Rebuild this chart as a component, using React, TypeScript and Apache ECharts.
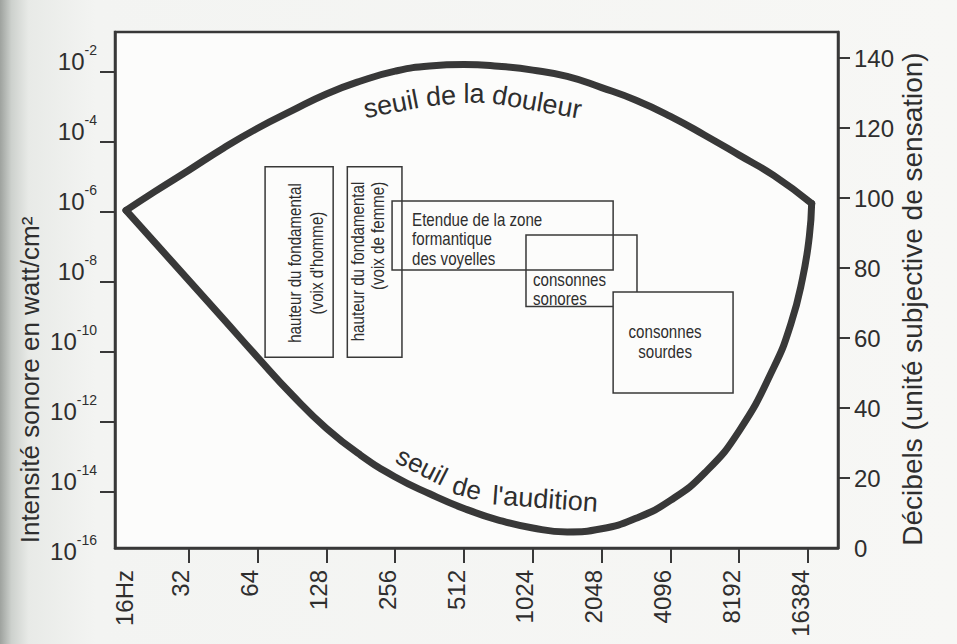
import React, { useEffect, useRef } from 'react';
import * as echarts from 'echarts';

// ---- data ----
const FREQ_TICKS = [16, 32, 64, 128, 256, 512, 1024, 2048, 4096, 8192, 16384];
const FREQ_LABELS = ['16Hz', '32', '64', '128', '256', '512', '1024', '2048', '4096', '8192', '16384'];
const DB_TICKS = [0, 20, 40, 60, 80, 100, 120, 140];
const INTENSITY_EXPONENTS = [-16, -14, -12, -10, -8, -6, -4, -2];
const INTENSITY_TICK_DB = [16, 36, 56, 76, 96, 116, 136];

// seuil de la douleur (Hz, dB)
const PAIN_FREQ = [17, 22.6, 32, 45.3, 64, 90.5, 128, 181, 256, 362, 512, 724, 1024, 1448, 2048, 2896, 4096, 5793, 8192, 11585, 17000];
const PAIN_DB = [96.5, 101.8, 108, 114.3, 120, 125, 129.8, 133.5, 136.3, 137.8, 138.2, 137.7, 136.6, 134.8, 131.6, 128, 123.4, 118, 112.3, 106.5, 98.5];

// seuil de l'audition (Hz, dB)
const HEARING_FREQ = [17, 22.6, 32, 45.3, 64, 90.5, 128, 181, 256, 362, 512, 724, 1024, 1448, 2048, 2896, 4096, 5793, 8192, 11585, 13777, 15500, 16600, 17000];
const HEARING_DB = [96.5, 87.5, 76.5, 65.5, 54.5, 43.8, 34.2, 26.5, 20.3, 15.5, 11.3, 8, 5.7, 4.6, 5.5, 8.5, 13.6, 21.5, 33.5, 51.5, 64, 77, 89, 98.5];

// zones
const BOX_LABELS = [
  "hauteur du fondamental\n(voix d'homme)",
  'hauteur du fondamental\n(voix de femme)',
  'Etendue de la zone\nformantique\ndes voyelles',
  'consonnes\nsonores',
  'consonnes\nsourdes',
];
const BOX_F_MIN = [69, 158, 248, 956, 2300];
const BOX_F_MAX = [137, 274, 2300, 2925, 7700];
const BOX_DB_MIN = [54.5, 54.5, 79.5, 69, 44.3];
const BOX_DB_MAX = [109, 109, 99.2, 89.5, 73.2];

const INK = '#2e2e2e';
const LINE = '#383838';
const FONT = "'Liberation Sans', Arial, Helvetica, sans-serif";

export default function App() {
  const ref = useRef<HTMLDivElement>(null);

  useEffect(() => {
    if (!ref.current) return;
    const chart = echarts.init(ref.current, undefined, { renderer: 'svg' });

    const painData = PAIN_FREQ.map((f, i) => [Math.log2(f), PAIN_DB[i]]);
    const hearingData = HEARING_FREQ.map((f, i) => [Math.log2(f), HEARING_DB[i]]);
    const boxData = BOX_LABELS.map((_, i) => [
      Math.log2(BOX_F_MIN[i]),
      Math.log2(BOX_F_MAX[i]),
      BOX_DB_MIN[i],
      BOX_DB_MAX[i],
    ]);

    const renderBox = (params: any, api: any) => {
      const i = params.dataIndex;
      const tl = api.coord([api.value(0), api.value(3)]);
      const br = api.coord([api.value(1), api.value(2)]);
      const x = tl[0];
      const y = tl[1];
      const w = br[0] - tl[0];
      const h = br[1] - tl[1];
      const children: any[] = [
        {
          type: 'rect',
          shape: { x, y, width: w, height: h },
          style: {
            fill: i === 4 ? '#fcfcfb' : 'rgba(0,0,0,0)',
            stroke: LINE,
            lineWidth: 1.5,
          },
        },
      ];
      const base = { fill: INK, fontFamily: FONT, fontSize: 18, text: BOX_LABELS[i] };
      const sx = 0.84;
      if (i === 0) {
        children.push({
          type: 'text',
          x: x + w / 2 + 7,
          y: y + h / 2 + 1,
          rotation: Math.PI / 2,
          scaleX: sx,
          style: { ...base, lineHeight: 22, align: 'center', verticalAlign: 'middle' },
        });
      } else if (i === 1) {
        children.push({
          type: 'text',
          x: x + 21,
          y: y + 15,
          rotation: Math.PI / 2,
          scaleX: sx,
          style: { ...base, lineHeight: 20, align: 'right', verticalAlign: 'middle' },
        });
      } else if (i === 2) {
        children.push({
          type: 'text',
          x: x + 20,
          y: y + 9,
          scaleX: sx,
          style: { ...base, lineHeight: 19.5, align: 'left', verticalAlign: 'top' },
        });
      } else if (i === 3) {
        children.push({
          type: 'text',
          x: x + 7,
          y: y + h + 2,
          scaleX: sx,
          style: { ...base, lineHeight: 19, align: 'left', verticalAlign: 'bottom' },
        });
      } else {
        children.push({
          type: 'text',
          x: x + w / 2 - 8,
          y: y + h / 2,
          scaleX: sx,
          style: { ...base, lineHeight: 20, align: 'center', verticalAlign: 'middle' },
        });
      }
      return { type: 'group', children };
    };

    const words = [
      { t: 'seuil', x: 391, y: 104, r: 11, s: 27 },
      { t: 'de', x: 441, y: 96, r: 5, s: 27 },
      { t: 'la', x: 474, y: 94, r: 0, s: 27 },
      { t: 'douleur', x: 537, y: 102, r: -10, s: 27 },
      { t: 'seuil', x: 422, y: 466, r: -27, s: 26 },
      { t: 'de', x: 467, y: 488, r: -15, s: 26 },
      { t: "l'audition", x: 545, y: 499, r: -4, s: 27 },
    ];

    const option: any = {
      animation: false,
      backgroundColor: {
        type: 'linear',
        x: 0,
        y: 0,
        x2: 1,
        y2: 0,
        colorStops: [
          { offset: 0, color: '#9ea29e' },
          { offset: 0.012, color: '#cdd1cd' },
          { offset: 0.03, color: '#e8eae7' },
          { offset: 0.1, color: '#f3f4f2' },
          { offset: 1, color: '#f7f7f5' },
        ],
      },
      textStyle: { fontFamily: FONT, color: INK },
      grid: {
        left: 115,
        right: 119,
        top: 32,
        bottom: 96,
        show: true,
        backgroundColor: '#fcfcfb',
        borderColor: LINE,
        borderWidth: 2.5,
      },
      xAxis: {
        type: 'value',
        min: 3.927,
        max: 14.436,
        axisLine: { show: true, lineStyle: { color: LINE, width: 2.5 } },
        axisTick: {
          show: true,
          customValues: FREQ_TICKS.slice(1).map((f) => Math.log2(f)),
          length: 15,
          lineStyle: { color: LINE, width: 2 },
        },
        axisLabel: {
          customValues: FREQ_TICKS.map((f) => Math.log2(f)),
          formatter: (v: number) => {
            const i = Math.round(v) - 4;
            return i === 0 ? `{h|${FREQ_LABELS[i]}}` : `{n|${FREQ_LABELS[i]}}`;
          },
          rotate: 90,
          color: INK,
          margin: 22,
          rich: {
            n: { fontSize: 24, color: INK, fontFamily: FONT, padding: [0, 0, 16, 0] },
            h: { fontSize: 24, color: INK, fontFamily: FONT, padding: [8, 0, 0, 0] },
          },
        },
        splitLine: { show: false },
      },
      yAxis: [
        {
          type: 'value',
          min: 0,
          max: 147.5,
          position: 'left',
          axisLine: { show: true, lineStyle: { color: LINE, width: 2.5 } },
          axisTick: { show: false },
          axisLabel: {
            customValues: DB_TICKS,
            margin: 18,
            formatter: (v: number) => `{b|10}{s|${INTENSITY_EXPONENTS[DB_TICKS.indexOf(v)]}}`,
            rich: {
              b: { fontSize: 24, lineHeight: 30, color: INK, fontFamily: FONT, verticalAlign: 'bottom' },
              s: { fontSize: 14, lineHeight: 14, color: INK, fontFamily: FONT, verticalAlign: 'top' },
            },
          },
          splitLine: { show: false },
        },
        {
          type: 'value',
          min: 0,
          max: 147.5,
          position: 'left',
          axisLine: { show: false },
          axisTick: {
            show: true,
            customValues: INTENSITY_TICK_DB,
            length: 15,
            lineStyle: { color: LINE, width: 2 },
          },
          axisLabel: { show: false },
          splitLine: { show: false },
        },
        {
          type: 'value',
          min: 0,
          max: 147.5,
          position: 'right',
          axisLine: { show: true, lineStyle: { color: LINE, width: 2.5 } },
          axisTick: {
            show: true,
            customValues: DB_TICKS.slice(1),
            length: 12,
            lineStyle: { color: LINE, width: 2 },
          },
          axisLabel: {
            customValues: DB_TICKS,
            fontSize: 24,
            color: INK,
            margin: 16,
            fontFamily: FONT,
          },
          splitLine: { show: false },
        },
      ],
      series: [
        {
          type: 'custom',
          name: 'zones',
          renderItem: renderBox,
          encode: { x: [0, 1], y: [2, 3] },
          data: boxData,
          z: 2,
          silent: true,
        },
        {
          type: 'line',
          name: 'seuil de la douleur',
          data: painData,
          smooth: 0.5,
          showSymbol: false,
          lineStyle: { color: LINE, width: 7, cap: 'round', join: 'round' },
          z: 3,
        },
        {
          type: 'line',
          name: "seuil de l'audition",
          data: hearingData,
          smooth: 0.5,
          showSymbol: false,
          lineStyle: { color: LINE, width: 7, cap: 'round', join: 'round' },
          z: 3,
        },
      ],
      graphic: [
        {
          type: 'text',
          x: 30,
          y: 380,
          rotation: Math.PI / 2,
          style: {
            text: 'Intensité sonore en watt/cm²',
            fontSize: 26,
            fontFamily: FONT,
            fill: INK,
            align: 'center',
            verticalAlign: 'middle',
          },
        },
        {
          type: 'text',
          x: 912,
          y: 299,
          rotation: Math.PI / 2,
          style: {
            text: 'Décibels (unité subjective de sensation)',
            fontSize: 28,
            fontFamily: FONT,
            fill: INK,
            align: 'center',
            verticalAlign: 'middle',
          },
        },
        ...words.map((w) => ({
          type: 'text',
          x: w.x,
          y: w.y,
          rotation: (w.r * Math.PI) / 180,
          z: 10,
          style: {
            text: w.t,
            fontSize: w.s,
            fontFamily: FONT,
            fill: INK,
            align: 'center',
            verticalAlign: 'middle',
          },
        })),
      ],
    };

    chart.setOption(option);
    return () => chart.dispose();
  }, []);

  return (
    <div
      ref={ref}
      style={{ position: 'fixed', left: 0, top: 0, width: 957, height: 644 }}
    />
  );
}
